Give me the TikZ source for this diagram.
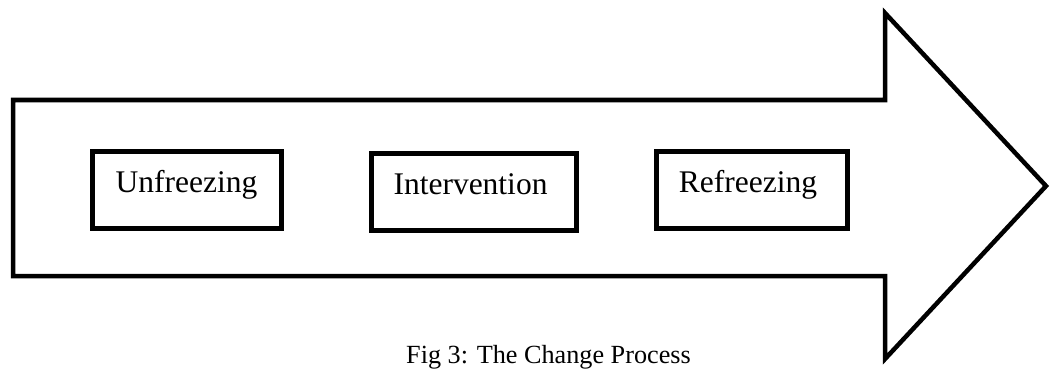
\documentclass[tikz,border=0pt]{standalone}
\usepackage{fontspec}
\setmainfont{Liberation Serif}
\begin{document}
\begin{tikzpicture}[x=1pt,y=-1pt,
  bigarrow/.style={draw=black,line width=4.5pt,line join=miter,fill=white},
  stagebox/.style={draw=black,line width=5pt,rectangle,inner sep=0pt,
    minimum height=77pt,font=\fontsize{31.5}{38}\selectfont,
    text height=13pt,text depth=8pt},
  caption/.style={anchor=base,inner sep=0pt,font=\fontsize{26.2}{32}\selectfont}]
  \useasboundingbox (0,0) rectangle (1050,369);
  % the process arrow
  \draw[bigarrow] (13,100) -- (885,100) -- (885,13) -- (1046,186)
    -- (885,359) -- (885,276) -- (13,276) -- cycle;
  % the three stages (labels nudged slightly left of the box centres)
  \node[stagebox,minimum width=189pt] (unfreeze) at (186.5,189.5) {Unfreezing};
  \node[stagebox,minimum width=205pt] (interv) at (473.5,191.5)
    {\makebox[0pt]{\hspace{-6pt}Intervention}};
  \node[stagebox,minimum width=191pt] (refreeze) at (751.5,190)
    {\makebox[0pt]{\hspace{-7pt}Refreezing}};
  % caption
  \node[caption] (cap) at (548.5,363) {Fig 3: The Change Process};
\end{tikzpicture}
\end{document}
